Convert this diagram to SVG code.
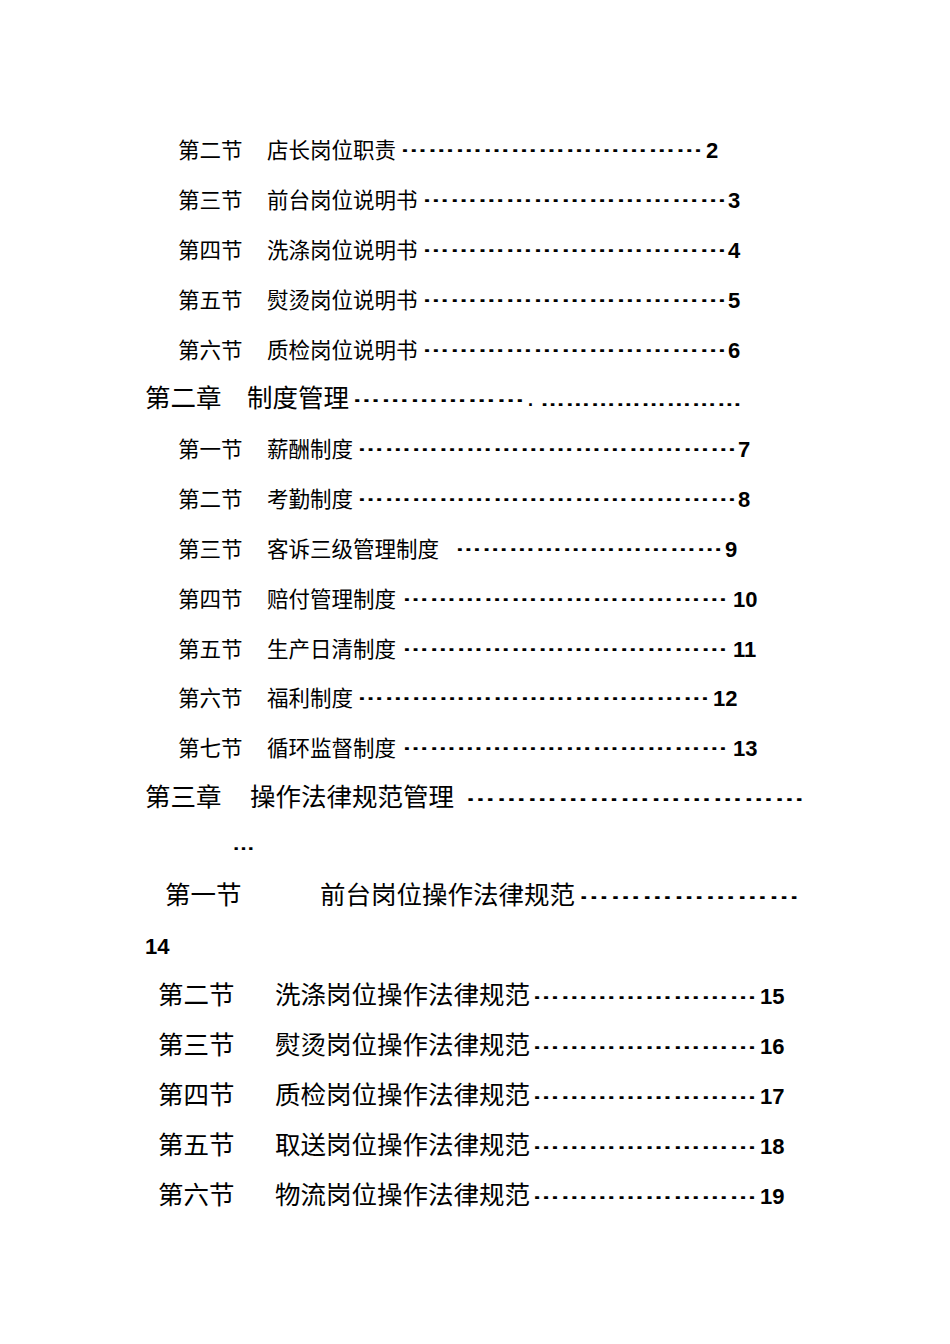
<svg xmlns="http://www.w3.org/2000/svg" width="950" height="1344" viewBox="0 0 950 1344">
<style>
.c{font-family:"Noto Sans CJK SC","Noto Sans",sans-serif;fill:#000}
.s{font-size:21.5px}.b{font-size:25.5px}
.d{font-family:"Liberation Sans",sans-serif;font-weight:bold;font-size:18px;fill:#000}
.n{font-family:"Liberation Sans",sans-serif;font-weight:bold;font-size:22px;fill:#000}
</style>
<rect width="950" height="1344" fill="#fff"/>
<g id="toc">
<g id="l1"><text class="c s" x="178" y="158">第二节</text><text class="c s" x="267" y="158">店长岗位职责</text><text class="d" x="400" y="152" textLength="303" lengthAdjust="spacingAndGlyphs">……………………………</text><text class="n" x="706" y="158">2</text></g>
<g id="l2"><text class="c s" x="178" y="208">第三节</text><text class="c s" x="267" y="208">前台岗位说明书</text><text class="d" x="422" y="202" textLength="305" lengthAdjust="spacingAndGlyphs">……………………………</text><text class="n" x="728" y="208">3</text></g>
<g id="l3"><text class="c s" x="178" y="258">第四节</text><text class="c s" x="267" y="258">洗涤岗位说明书</text><text class="d" x="422" y="252" textLength="305" lengthAdjust="spacingAndGlyphs">……………………………</text><text class="n" x="728" y="258">4</text></g>
<g id="l4"><text class="c s" x="178" y="308">第五节</text><text class="c s" x="267" y="308">熨烫岗位说明书</text><text class="d" x="422" y="302" textLength="305" lengthAdjust="spacingAndGlyphs">……………………………</text><text class="n" x="728" y="308">5</text></g>
<g id="l5"><text class="c s" x="178" y="358">第六节</text><text class="c s" x="267" y="358">质检岗位说明书</text><text class="d" x="422" y="352" textLength="305" lengthAdjust="spacingAndGlyphs">……………………………</text><text class="n" x="728" y="358">6</text></g>
<g id="ch2"><text class="c b" x="145" y="407">第二章</text><text class="c b" x="247" y="407">制度管理</text><text class="d" x="352" y="402" textLength="173" lengthAdjust="spacingAndGlyphs">………………</text><text class="d" x="528" y="406">.</text><text class="d" x="540" y="406" textLength="202" lengthAdjust="spacingAndGlyphs">……………………</text></g>
<g id="l6"><text class="c s" x="178" y="457">第一节</text><text class="c s" x="267" y="457">薪酬制度</text><text class="d" x="357" y="451" textLength="380" lengthAdjust="spacingAndGlyphs">……………………………………</text><text class="n" x="738" y="457">7</text></g>
<g id="l7"><text class="c s" x="178" y="507">第二节</text><text class="c s" x="267" y="507">考勤制度</text><text class="d" x="357" y="501" textLength="380" lengthAdjust="spacingAndGlyphs">……………………………………</text><text class="n" x="738" y="507">8</text></g>
<g id="l8"><text class="c s" x="178" y="557">第三节</text><text class="c s" x="267" y="557">客诉三级管理制度</text><text class="d" x="455" y="551" textLength="268" lengthAdjust="spacingAndGlyphs">…………………………</text><text class="n" x="725" y="557">9</text></g>
<g id="l9"><text class="c s" x="178" y="607">第四节</text><text class="c s" x="267" y="607">赔付管理制度</text><text class="d" x="402" y="601" textLength="326" lengthAdjust="spacingAndGlyphs">………………………………</text><text class="n" x="733" y="607">10</text></g>
<g id="l10"><text class="c s" x="178" y="657">第五节</text><text class="c s" x="267" y="657">生产日清制度</text><text class="d" x="402" y="651" textLength="326" lengthAdjust="spacingAndGlyphs">………………………………</text><text class="n" x="733" y="657">11</text></g>
<g id="l11"><text class="c s" x="178" y="706">第六节</text><text class="c s" x="267" y="706">福利制度</text><text class="d" x="357" y="700" textLength="353" lengthAdjust="spacingAndGlyphs">…………………………………</text><text class="n" x="713" y="706">12</text></g>
<g id="l12"><text class="c s" x="178" y="756">第七节</text><text class="c s" x="267" y="756">循环监督制度</text><text class="d" x="402" y="750" textLength="326" lengthAdjust="spacingAndGlyphs">………………………………</text><text class="n" x="733" y="756">13</text></g>
<g id="ch3"><text class="c b" x="145" y="806">第三章</text><text class="c b" x="250" y="806">操作法律规范管理</text><text class="d" x="465" y="801" textLength="340" lengthAdjust="spacingAndGlyphs">……………………………</text><text class="d" x="232" y="850" textLength="23" lengthAdjust="spacingAndGlyphs">…</text></g>
<g id="l13"><text class="c b" x="165" y="904">第一节</text><text class="c b" x="320" y="904">前台岗位操作法律规范</text><text class="d" x="578" y="899" textLength="222" lengthAdjust="spacingAndGlyphs">…………………</text><text class="n" x="145" y="954">14</text></g>
<g id="l14"><text class="c b" x="158" y="1004">第二节</text><text class="c b" x="275" y="1004">洗涤岗位操作法律规范</text><text class="d" x="532" y="999" textLength="225" lengthAdjust="spacingAndGlyphs">……………………</text><text class="n" x="760" y="1004">15</text></g>
<g id="l15"><text class="c b" x="158" y="1054">第三节</text><text class="c b" x="275" y="1054">熨烫岗位操作法律规范</text><text class="d" x="532" y="1049" textLength="225" lengthAdjust="spacingAndGlyphs">……………………</text><text class="n" x="760" y="1054">16</text></g>
<g id="l16"><text class="c b" x="158" y="1104">第四节</text><text class="c b" x="275" y="1104">质检岗位操作法律规范</text><text class="d" x="532" y="1099" textLength="225" lengthAdjust="spacingAndGlyphs">……………………</text><text class="n" x="760" y="1104">17</text></g>
<g id="l17"><text class="c b" x="158" y="1154">第五节</text><text class="c b" x="275" y="1154">取送岗位操作法律规范</text><text class="d" x="532" y="1149" textLength="225" lengthAdjust="spacingAndGlyphs">……………………</text><text class="n" x="760" y="1154">18</text></g>
<g id="l18"><text class="c b" x="158" y="1204">第六节</text><text class="c b" x="275" y="1204">物流岗位操作法律规范</text><text class="d" x="532" y="1199" textLength="225" lengthAdjust="spacingAndGlyphs">……………………</text><text class="n" x="760" y="1204">19</text></g>
</g>
</svg>
